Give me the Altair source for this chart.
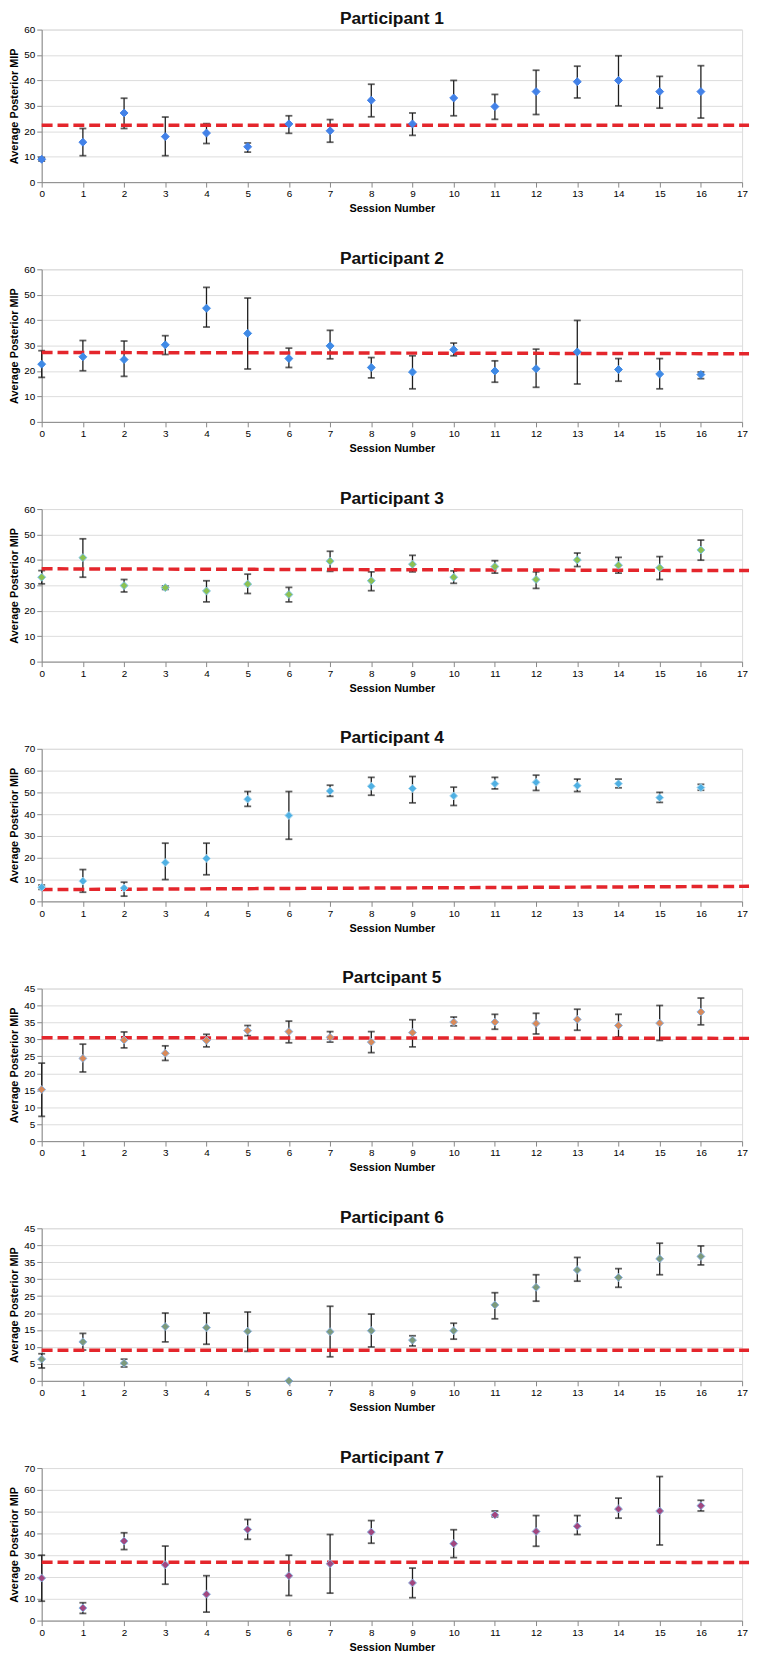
import altair as alt
import pandas as pd

sessions = list(range(17))
x_ticks = list(range(18))

titles = ["Participant 1", "Participant 2", "Participant 3", "Participant 4",
          "Partcipant 5", "Participant 6", "Participant 7"]

p1_mean = [9, 15.7, 27.2, 17.9, 19.3, 13.9, 22.9, 20.2, 32.2, 22.9, 33.1, 29.7, 35.6, 39.5, 40.0, 35.6, 35.6]
p1_lo = [8.3, 10.4, 21.1, 10.4, 15.2, 11.8, 19.2, 15.7, 25.7, 18.4, 26.1, 24.7, 26.6, 33.1, 30.0, 29.1, 25.2]
p1_hi = [9.7, 21.1, 33.0, 25.6, 23.0, 15.4, 26.1, 24.6, 38.5, 27.2, 40.0, 34.5, 44.0, 45.6, 49.7, 41.6, 45.8]
p1_red = [22.4, 22.4]

p2_mean = [22.7, 25.6, 24.5, 30.3, 44.7, 34.8, 24.9, 29.9, 21.4, 19.6, 28.4, 20.0, 20.9, 27.5, 20.6, 18.8, 18.6]
p2_lo = [17.5, 20.1, 17.9, 26.5, 37.3, 20.8, 21.4, 24.8, 17.3, 13.0, 26.0, 15.6, 13.6, 14.9, 16.0, 13.0, 17.0]
p2_hi = [28.0, 32.0, 31.8, 33.9, 52.9, 48.7, 29.0, 36.0, 25.3, 26.0, 31.0, 24.0, 28.6, 39.9, 24.9, 24.9, 19.6]
p2_red = [27.3, 26.8]

p3_mean = [33.2, 40.9, 29.9, 29.1, 27.8, 30.5, 26.4, 39.5, 31.8, 38.3, 33.2, 37.4, 32.3, 40.0, 37.9, 36.9, 43.9]
p3_lo = [30.6, 33.2, 27.4, 28.4, 23.5, 26.8, 23.5, 35.5, 27.9, 35.3, 30.8, 34.8, 28.8, 37.4, 34.8, 32.3, 39.9]
p3_hi = [35.8, 48.3, 32.3, 29.7, 31.8, 34.4, 29.2, 43.4, 35.3, 41.8, 35.7, 39.7, 35.3, 42.7, 41.0, 41.3, 47.8]
p3_red = [36.5, 35.8]

p4_mean = [6.5, 9.3, 6.1, 17.8, 19.7, 46.9, 39.4, 50.6, 52.8, 51.8, 48.4, 54.0, 54.6, 53.1, 54.0, 47.6, 52.2]
p4_lo = [5.5, 4.2, 2.4, 10.0, 12.2, 43.6, 28.5, 48.2, 48.7, 45.2, 44.0, 51.6, 50.9, 50.4, 52.1, 45.4, 51.0]
p4_hi = [7.5, 14.6, 8.8, 26.7, 26.7, 50.4, 50.4, 53.3, 56.9, 57.3, 52.4, 56.9, 57.9, 56.1, 56.1, 50.0, 53.7]
p4_red = [5.4, 6.9]

p5_mean = [15.2, 24.4, 29.8, 25.9, 29.7, 32.6, 32.3, 30.6, 29.2, 32.0, 35.1, 35.1, 34.7, 35.9, 34.1, 34.8, 38.1]
p5_lo = [7.3, 20.4, 27.5, 23.8, 27.8, 31.1, 29.0, 29.2, 26.1, 27.8, 34.0, 33.0, 31.6, 32.7, 30.7, 29.7, 34.3]
p5_hi = [23.0, 28.6, 32.2, 28.1, 31.5, 34.1, 35.4, 32.3, 32.3, 35.8, 36.6, 37.4, 37.7, 38.9, 37.4, 40.0, 42.2]
p5_red = [30.5, 30.3]

p6_mean = [6.4, 11.5, 5.2, 16.0, 15.7, 14.6, 0.0, 14.5, 14.8, 12.0, 14.8, 22.4, 27.6, 32.7, 30.5, 36.0, 36.7]
p6_lo = [3.8, 9.1, 4.1, 11.5, 10.8, 8.7, 0.0, 7.1, 10.0, 10.3, 12.3, 18.3, 23.5, 29.4, 27.6, 31.3, 34.2]
p6_hi = [8.0, 14.0, 6.4, 20.0, 20.0, 20.3, 0.0, 22.0, 19.7, 13.3, 17.0, 26.0, 31.3, 36.4, 33.1, 40.6, 39.8]
p6_red = [9.0, 9.0]

p7_mean = [19.5, 5.8, 36.5, 25.6, 12.1, 41.8, 20.6, 26.1, 40.6, 17.3, 35.3, 48.5, 40.9, 43.3, 51.2, 50.3, 52.7]
p7_lo = [8.9, 3.3, 32.6, 16.7, 3.9, 37.3, 11.5, 12.6, 35.5, 10.5, 28.9, 47.6, 34.1, 39.5, 47.0, 34.7, 50.3]
p7_hi = [30.0, 8.2, 40.3, 34.2, 20.6, 46.4, 30.0, 39.5, 45.9, 24.1, 41.7, 50.3, 48.2, 48.2, 56.2, 66.1, 55.2]
p7_red = [26.8, 26.7]

y_max = [60, 60, 60, 70, 45, 45, 70]
y_step = [10, 10, 10, 10, 5, 5, 10]
fills = ["#4382e8", "#3f8ae6", "#8cc152", "#4fb0e3", "#d98a5a", "#7d9a7c", "#a2477f"]
strokes = ["#4382e8", "#3f8ae6", "#7cc3e8", "#a8d8f0", "#8db4e2", "#8db4e2", "#8db4e2"]

means = [p1_mean, p2_mean, p3_mean, p4_mean, p5_mean, p6_mean, p7_mean]
lows = [p1_lo, p2_lo, p3_lo, p4_lo, p5_lo, p6_lo, p7_lo]
highs = [p1_hi, p2_hi, p3_hi, p4_hi, p5_hi, p6_hi, p7_hi]
reds = [p1_red, p2_red, p3_red, p4_red, p5_red, p6_red, p7_red]

W = 707
H = 154
FONT = "Liberation Sans, Arial, sans-serif"
ERR = "#1e1e1e"


def panel(i):
    df = pd.DataFrame({"session": sessions, "mean": means[i], "lo": lows[i], "hi": highs[i]})
    red_df = pd.DataFrame({"r0": [reds[i][0]], "r1": [reds[i][1]]})
    yscale = alt.Scale(domain=[0, y_max[i]], nice=False, zero=True)
    yaxis = alt.Axis(values=list(range(0, y_max[i] + 1, y_step[i])),
                     title="Average Posterior MIP", grid=True)
    xenc = alt.X("session:Q", scale=alt.Scale(domain=[0, 17], nice=False, zero=False),
                 axis=alt.Axis(values=x_ticks, title="Session Number", grid=False,
                               labelFlush=False))
    base = alt.Chart(df)

    bars = base.mark_rule(color=ERR, strokeWidth=1.3).encode(
        x=xenc, y=alt.Y("lo:Q", scale=yscale, axis=yaxis), y2="hi:Q")
    cap_lo = base.mark_tick(orient="horizontal", size=7, thickness=1.8, color=ERR).encode(
        x=xenc, y=alt.Y("lo:Q", scale=yscale, axis=yaxis))
    cap_hi = base.mark_tick(orient="horizontal", size=7, thickness=1.8, color=ERR).encode(
        x=xenc, y=alt.Y("hi:Q", scale=yscale, axis=yaxis))
    red = alt.Chart(red_df).mark_rule(color="#e4262c", strokeWidth=3.5,
                                      strokeDash=[11, 5]).encode(
        x=alt.value(0), x2=alt.value(W + 7),
        y=alt.Y("r0:Q", scale=yscale, axis=yaxis), y2="r1:Q")
    pts = base.mark_point(shape="diamond", filled=True, size=64, opacity=1,
                          fill=fills[i], stroke=strokes[i], strokeWidth=1).encode(
        x=xenc, y=alt.Y("mean:Q", scale=yscale, axis=yaxis))

    return alt.layer(bars, cap_lo, cap_hi, red, pts).properties(
        width=W, height=H,
        title=alt.TitleParams(titles[i], font=FONT, fontSize=17.5, fontWeight="bold",
                              color="#111111", anchor="middle", frame="group", offset=-3))


chart = alt.vconcat(*[panel(i) for i in range(7)], spacing=35).properties(
    padding={"left": 0, "top": -6, "right": 0, "bottom": 0}
).configure_view(stroke=None).configure_axis(
    labelFont=FONT, labelFontSize=11, labelColor="#333333",
    tickColor="#8d9a9a", tickSize=4, domainColor="#8d9a9a", domainWidth=1.5,
    gridColor="#9aa6a6", gridWidth=1.5,
    titleColor="#222222", titleFontWeight="bold"
).configure_axisY(
    titleFont="DejaVu Sans", titleFontSize=9.5, titlePadding=0, labelPadding=2
).configure_axisX(
    titleFont=FONT, titleFontSize=10, titlePadding=3, labelPadding=5
).configure(background="white")

chart.save("out.html", embed_options={"renderer": "svg", "actions": False})
